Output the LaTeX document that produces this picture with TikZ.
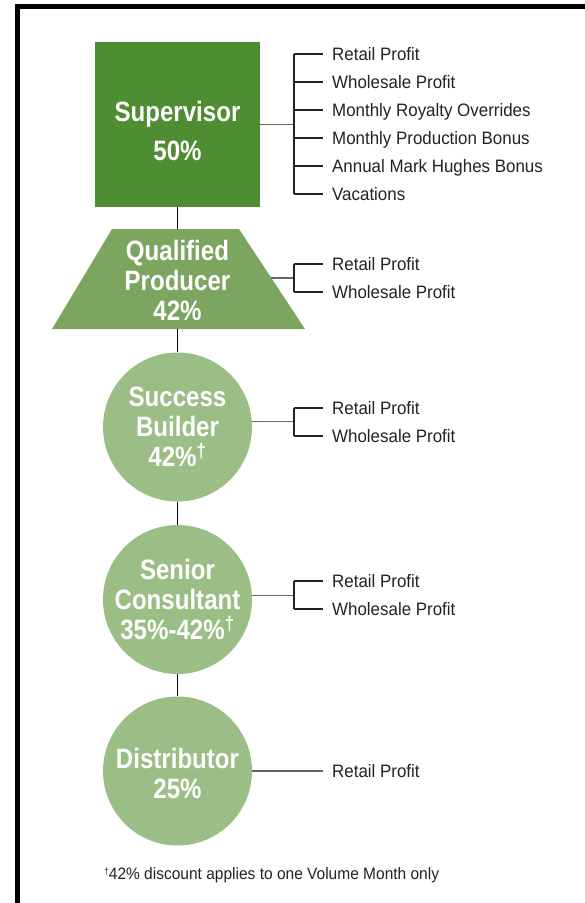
\documentclass[tikz,border=0pt]{standalone}
\usepackage{fontspec}
\usetikzlibrary{calc}
\setmainfont{Liberation Sans}
\newfontfamily\condb[FakeStretch=0.86]{Liberation Sans}
\newfontfamily\condr[FakeStretch=0.94]{Liberation Sans}
\definecolor{darkg}{HTML}{4F8D32}
\definecolor{midg}{HTML}{7CA660}
\definecolor{lightg}{HTML}{9BBE87}
\definecolor{ink}{HTML}{222222}
\begin{document}
\begin{tikzpicture}[x=1pt,y=-1pt,
  sqbox/.style={rectangle, fill=darkg, minimum width=165pt, minimum height=165pt, inner sep=0pt},
  circbox/.style={circle, fill=lightg, minimum size=149pt, inner sep=0pt},
  bigtxt/.style={text=white, align=center, inner sep=0pt, font=\condb\bfseries\fontsize{28}{30}\selectfont},
  item/.style={anchor=west, text=ink, inner sep=0pt, text height=12.6pt, text depth=0pt, font=\condr\fontsize{18}{20}\selectfont},
  link/.style={draw=black!60, line width=1.1pt},
  brk/.style={draw=ink, line width=1.3pt},
  vlink/.style={draw=black, line width=1.6pt}]
\useasboundingbox (0,0) rectangle (585,903);
% frame
\fill[black] (15,4) rectangle (585,9);
\fill[black] (15,4) rectangle (20,903);

% shapes
\node[sqbox] (sup) at (177.5,124.5) {};
\node[bigtxt, font=\condb\bfseries\fontsize{28}{39}\selectfont] (suptxt) at (177.5,131) {Supervisor\\50\%};

\fill[midg] (112,229) coordinate (qptl) -- (239,229) coordinate (qptr) -- (305,329) coordinate (qpbr) -- (52,329) coordinate (qpbl) -- cycle;
\coordinate (qptop) at (177.5,229);
\coordinate (qpbot) at (177.5,329);
\coordinate (qpr) at ($(qptr)!0.49!(qpbr)$);
\node[bigtxt] (qptxt) at (177.5,280) {Qualified\\Producer\\42\%};

\node[circbox] (sb) at (177.5,427) {};
\node[bigtxt] (sbtxt) at (177.5,427) {Success\\Builder\\42\%\textsuperscript{†}};

\node[circbox] (sc) at (177.5,599.5) {};
\node[bigtxt] (sctxt) at (177.5,599.5) {Senior\\Consultant\\35\%-42\%\textsuperscript{†}};

\node[circbox] (dist) at (177.5,771) {};
\node[bigtxt] (disttxt) at (177.5,773) {Distributor\\25\%};

% vertical links
\draw[vlink] (sup.south) -- (qptop);
\draw[vlink] (qpbot) -- (sb.north);
\draw[vlink] (sb.south) -- (sc.north);
\draw[vlink] (sc.south) -- (dist.north);

% supervisor list
\foreach \t [count=\k] in {Retail Profit, Wholesale Profit, Monthly Royalty Overrides, Monthly Production Bonus, Annual Mark Hughes Bonus, Vacations}
  \node[item] (s\k) at (332,{54+28*(\k-1)}) {\t};
\coordinate (supbr) at (294,124.5);
\draw[link] (sup.east) -- (supbr);
\draw[brk] (supbr |- s1.west) -- (supbr |- s6.west);
\foreach \k in {1,...,6}
  \draw[brk] (supbr |- s\k.west) -- ([xshift=-9pt]s\k.west);

% qualified producer list
\node[item] (q1) at (332,264) {Retail Profit};
\node[item] (q2) at (332,292) {Wholesale Profit};
\coordinate (qpbr2) at (294,278);
\draw[link] (qpr) -- (qpr -| qpbr2);
\draw[brk] (qpbr2 |- q1.west) -- (qpbr2 |- q2.west);
\foreach \k in {1,2}
  \draw[brk] (qpbr2 |- q\k.west) -- ([xshift=-9pt]q\k.west);

% success builder list
\node[item] (b1) at (332,408) {Retail Profit};
\node[item] (b2) at (332,436) {Wholesale Profit};
\coordinate (sbbr) at (294,422);
\draw[link] (sb.4) -- (sb.4 -| sbbr);
\draw[brk] (sbbr |- b1.west) -- (sbbr |- b2.west);
\foreach \k in {1,2}
  \draw[brk] (sbbr |- b\k.west) -- ([xshift=-9pt]b\k.west);

% senior consultant list
\node[item] (c1) at (332,581) {Retail Profit};
\node[item] (c2) at (332,609) {Wholesale Profit};
\coordinate (scbr) at (294,595);
\draw[link] (sc.3.5) -- (sc.3.5 -| scbr);
\draw[brk] (scbr |- c1.west) -- (scbr |- c2.west);
\foreach \k in {1,2}
  \draw[brk] (scbr |- c\k.west) -- ([xshift=-9pt]c\k.west);

% distributor
\node[item] (d1) at (332,771) {Retail Profit};
\draw[link] (dist.east) -- ([xshift=-9pt]d1.west);

% footnote
\node[anchor=west, inner sep=0pt, text=ink, font=\condr\fontsize{16.5}{20}\selectfont] (note) at (104,875) {\raisebox{0.55ex}{\fontsize{9}{10}\selectfont †}42\% discount applies to one Volume Month only};
\end{tikzpicture}
\end{document}
